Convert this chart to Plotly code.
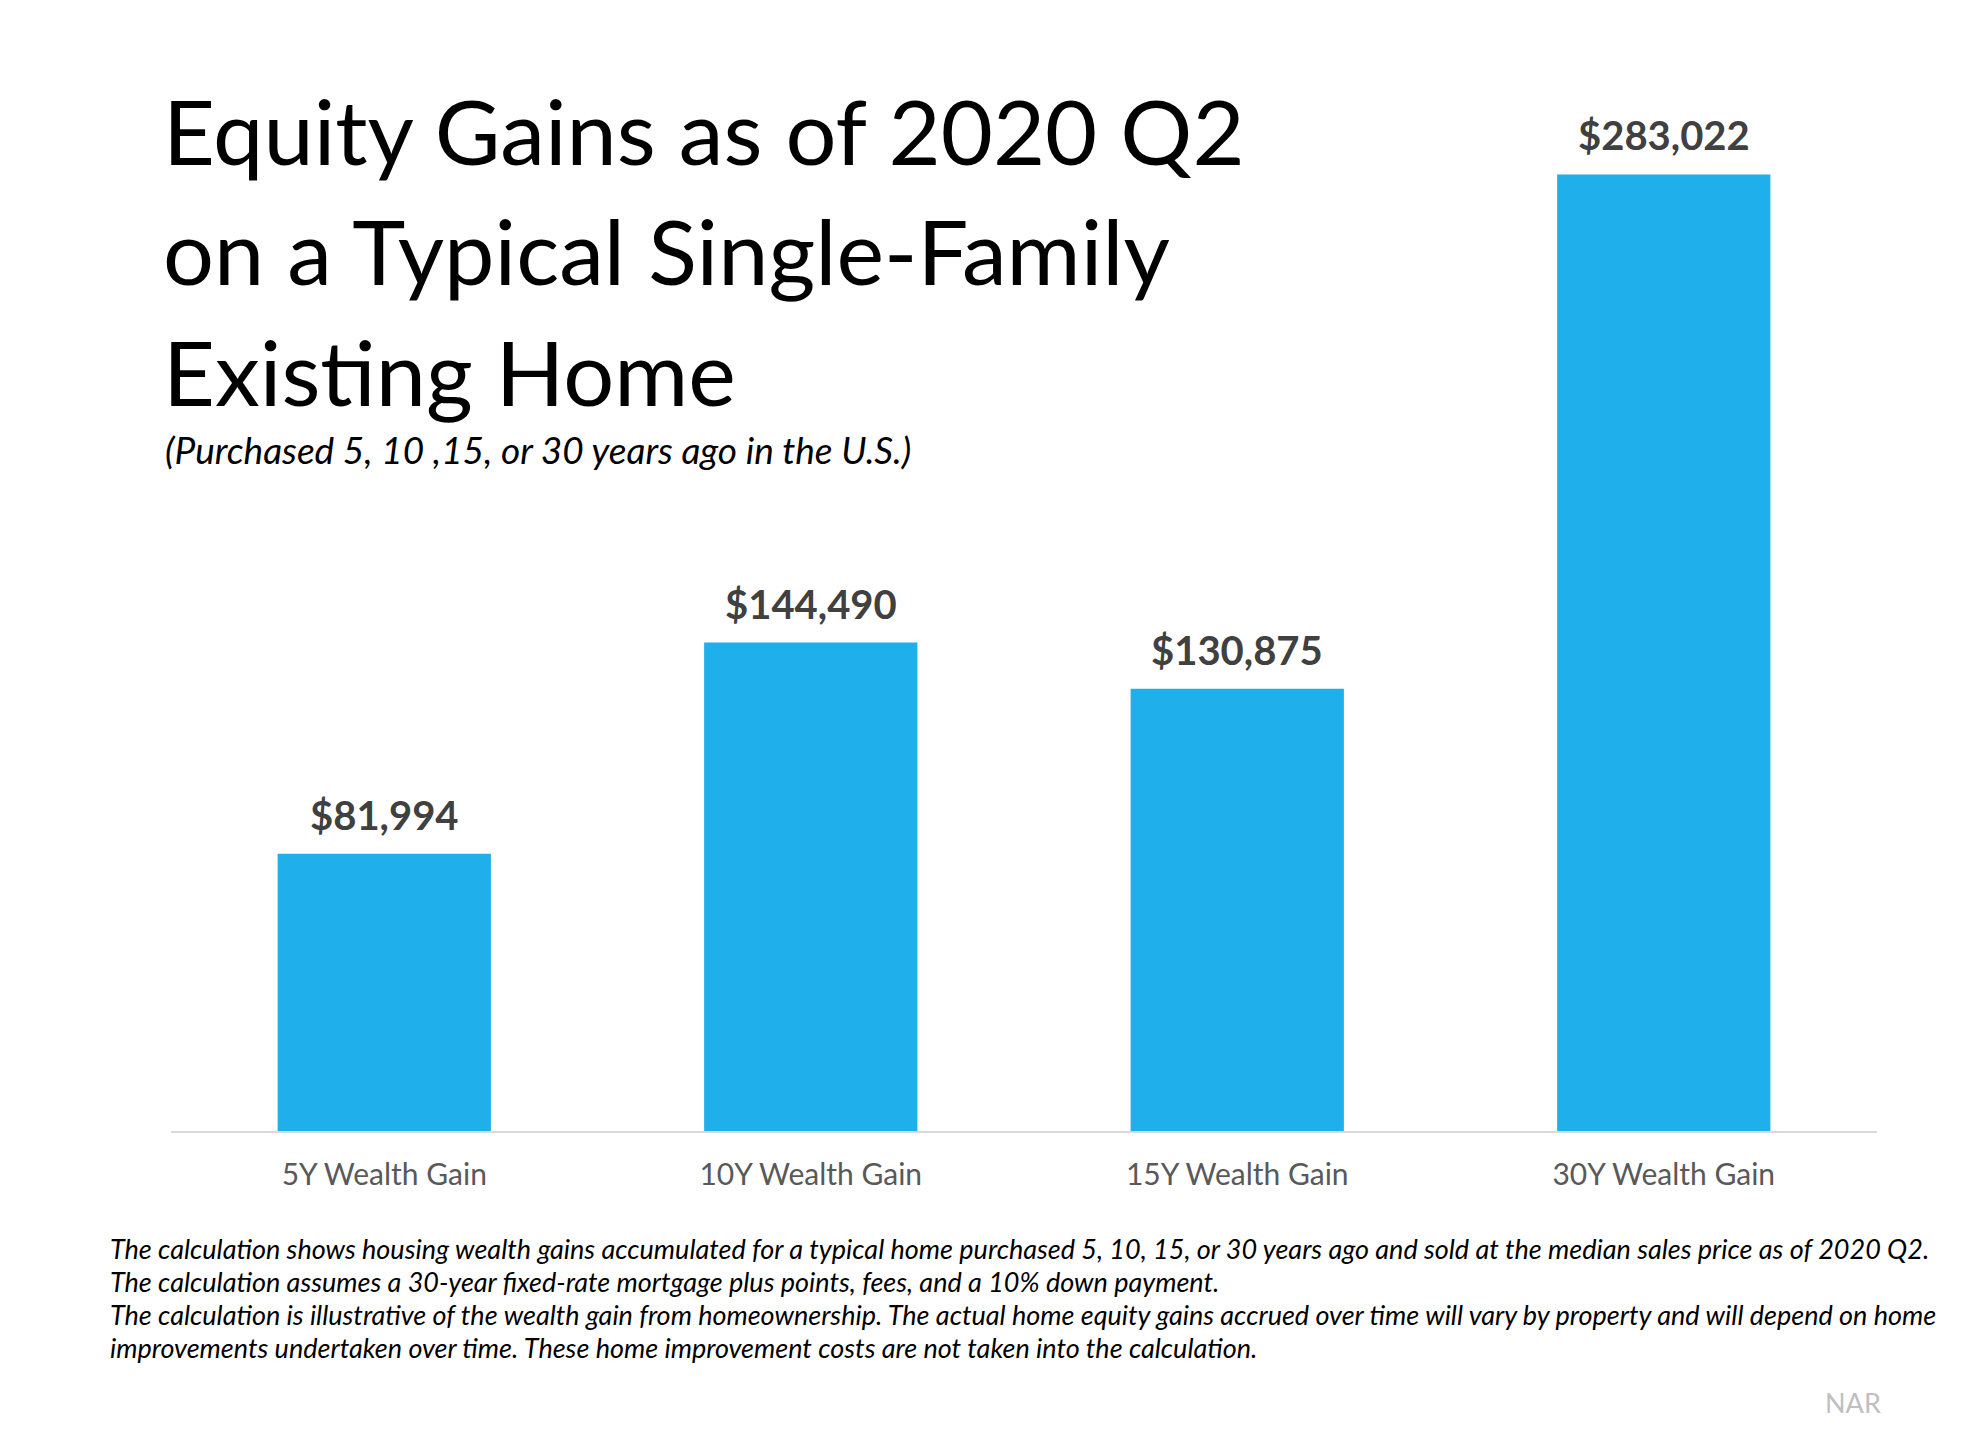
import plotly.graph_objects as go

categories = ["5Y Wealth Gain", "10Y Wealth Gain", "15Y Wealth Gain", "30Y Wealth Gain"]
gains = [81994, 144490, 130875, 283022]
value_labels = ["$81,994", "$144,490", "$130,875", "$283,022"]

title_lines = [
    "Equity Gains as of 2020 Q2",
    "on a Typical Single-Family",
    "Existing Home",
]
subtitle_text = "(Purchased 5, 10 ,15, or 30 years ago in the U.S.)"
footnote_lines = [
    "The calculation shows housing wealth gains accumulated for a typical home purchased 5, 10, 15, or 30 years ago and sold at the median sales price as of 2020 Q2.",
    "The calculation assumes a 30-year fixed-rate mortgage plus points, fees, and a 10% down payment.",
    "The calculation is illustrative of the wealth gain from homeownership. The actual home equity gains accrued over time will vary by property and will depend on home",
    "improvements undertaken over time. These home improvement costs are not taken into the calculation.",
]
source_text = "NAR"

FONT = "Lato"
BAR_BLUE = "#1fafea"

fig = go.Figure(go.Bar(
    x=categories,
    y=gains,
    marker=dict(color=BAR_BLUE, line=dict(width=0)),
    hoverinfo="skip",
))

# value labels above bars
for cat, val, lab in zip(categories, gains, value_labels):
    fig.add_annotation(
        x=cat, y=val, text="<b>" + lab + "</b>",
        showarrow=False, yanchor="bottom", yshift=13,
        font=dict(family=FONT, size=40, color="#404040"),
    )

# title block, one annotation per line
title_y = [0.9867, 0.8692, 0.7491]
for line, ty in zip(title_lines, title_y):
    fig.add_annotation(
        xref="paper", yref="paper", x=-0.0059, y=ty,
        xanchor="left", yanchor="middle", align="left",
        text=line, showarrow=False,
        font=dict(family=FONT, size=90, color="#000000"),
    )
fig.add_annotation(
    xref="paper", yref="paper", x=-0.0044, y=0.6716,
    xanchor="left", yanchor="middle", align="left",
    text="<i>" + subtitle_text + "</i>", showarrow=False,
    font=dict(family=FONT, size=37, color="#000000"),
)

# footnote lines
for i, line in enumerate(footnote_lines):
    fig.add_annotation(
        xref="paper", yref="paper", x=-0.0369, y=-0.1154 - 0.03254 * i,
        xanchor="left", yanchor="middle", align="left",
        text="<i>" + line + "</i>", showarrow=False,
        font=dict(family=FONT, size=27, color="#000000"),
    )
fig.add_annotation(
    xref="paper", yref="paper", x=0.986, y=-0.268,
    xanchor="center", yanchor="middle",
    text=source_text, showarrow=False,
    font=dict(family=FONT, size=27, color="#bfbfbf"),
)

fig.update_layout(
    width=1970, height=1414,
    margin=dict(l=163, r=101, t=109, b=291),
    paper_bgcolor="white", plot_bgcolor="white",
    bargap=0.5,
    showlegend=False,
    xaxis=dict(
        showgrid=False, showline=True, linecolor="#d9d9d9", linewidth=2,
        ticks="", ticklabelstandoff=16,
        tickfont=dict(family=FONT, size=30, color="#595959"),
    ),
    yaxis=dict(range=[0, 300000], visible=False, showgrid=False, zeroline=False),
)

fig.write_html("out.html")
